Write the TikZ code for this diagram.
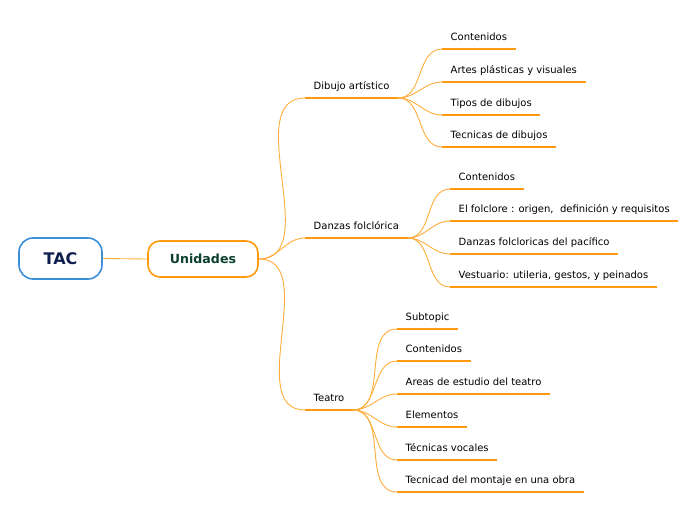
\documentclass[tikz,border=0pt]{standalone}
\usepackage{fontspec}
\setmainfont{DejaVu Sans}
\definecolor{tacblue}{HTML}{3A8FD6}
\definecolor{tacnavy}{HTML}{0E1F4D}
\definecolor{unigreen}{HTML}{0B4030}
\definecolor{brorange}{HTML}{FF9A0E}
\definecolor{linkorange}{HTML}{FFAD3A}
\begin{document}
\begin{tikzpicture}[x=1pt,y=-1pt,line join=round]
	\tikzset{root/.style={draw=tacblue,line width=1.6pt,rounded corners=14pt,minimum width=83pt,minimum height=41pt,font=\fontsize{16}{18}\selectfont\bfseries,text=tacnavy},
		main/.style={draw=brorange,line width=1.6pt,rounded corners=12pt,minimum width=110pt,minimum height=36pt,font=\fontsize{12.6}{15}\selectfont\bfseries,text=unigreen},
		topic/.style={anchor=south west,inner xsep=8.5pt,inner ysep=0pt,text height=8pt,text depth=8pt,font=\fontsize{10}{12}\selectfont},
		uline/.style={draw=brorange,line width=2.6pt},
		link/.style={draw=linkorange,line width=0.9pt}}
	\useasboundingbox (0,0) rectangle (696,520);
	%%Các nút chính
	\node[root] (tac) at (60.5,258.5) {TAC};
	\node[main] (uni) at (203,259) {Unidades};
	\draw[link] (tac.east) -- (uni.west);
	%%Nhánh cấp 1
	\node[topic] (dib) at (305,98) {Dibujo artístico};
	\node[topic] (dan) at (305,238) {Danzas folclórica};
	\node[topic] (tea) at (305,410) {Teatro};
	\foreach \b in {dib,dan,tea}
		\draw[link] (uni.east) to[out=0,in=180] (\b.south west);
	%%Nhánh cấp 2
	\foreach \n/\y/\t in {1/49/Contenidos,2/82/Artes plásticas y visuales,3/115/Tipos de dibujos,4/147/Tecnicas de dibujos}{
		\node[topic] (dib\n) at (442,\y) {\t};
		\draw[link] (dib.south east) to[out=0,in=180] (dib\n.south west);
		\draw[uline] (dib\n.south west) -- (dib\n.south east);
	}
	\foreach \n/\y/\t in {1/189/Contenidos,2/221/{El folclore : origen,~~definición y requisitos},3/254/Danzas folcloricas del pacífico,4/287/{Vestuario: utileria, gestos, y peinados}}{
		\node[topic] (dan\n) at (450,\y) {\t};
		\draw[link] (dan.south east) to[out=0,in=180] (dan\n.south west);
		\draw[uline] (dan\n.south west) -- (dan\n.south east);
	}
	\foreach \n/\y/\t in {1/329/Subtopic,2/361/Contenidos,3/394/Areas de estudio del teatro,4/427/Elementos,5/460/Técnicas vocales,6/492/Tecnicad del montaje en una obra}{
		\node[topic] (tea\n) at (397,\y) {\t};
		\draw[link] (tea.south east) to[out=0,in=180] (tea\n.south west);
		\draw[uline] (tea\n.south west) -- (tea\n.south east);
	}
	\foreach \b in {dib,dan,tea}
		\draw[uline] (\b.south west) -- (\b.south east);
\end{tikzpicture}
\end{document}
